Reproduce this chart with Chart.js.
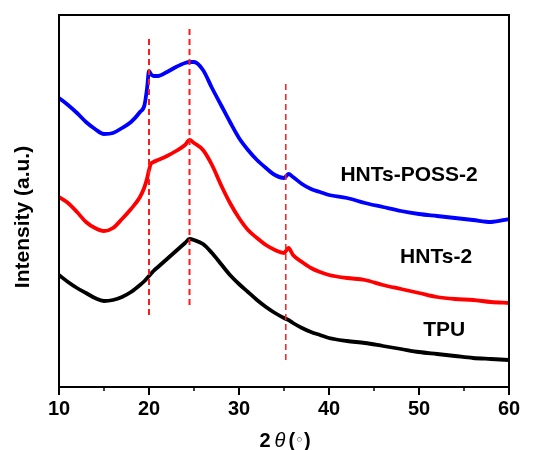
<!DOCTYPE html>
<html>
<head>
<meta charset="utf-8">
<script src="https://cdn.jsdelivr.net/npm/chart.js@4.4.1/dist/chart.umd.min.js"></script>
<style>
  body { margin: 0; background: #fff; }
</style>
</head>
<body>
<canvas id="myChart" width="534" height="450"></canvas>
<script>
// 2theta grid (degrees) and intensities (a.u.)
var twoTheta = [10, 11, 12, 13, 14, 15, 16, 17, 18, 19, 19.5, 19.8, 20, 20.2, 20.5, 21, 22, 23, 24, 24.5, 25,
  26, 27, 28, 29, 30, 31, 32, 33, 34, 35, 35.5, 36, 37, 38, 39, 40, 42, 44, 46, 48, 50, 52, 54, 56, 58, 60];

var hntsPoss2 = [289, 282, 274, 265, 258, 253, 254, 259, 265, 275, 282, 300, 316, 313, 311, 311, 315, 320, 324, 325, 325,
  317, 299, 282, 265, 249, 237, 227, 219, 212, 209, 213, 210, 203, 198, 195, 192, 189, 184, 180, 176, 173, 171, 169, 167, 165, 168];

var hnts2 = [190, 184, 175, 165, 159, 156, 159, 168, 178, 190, 200, 209, 217, 223, 225, 227, 231, 236, 242, 247, 244,
  237, 222, 202, 184, 169, 157, 149, 142, 137, 134, 139, 132, 125, 119, 115, 112, 109, 107, 102, 98, 94, 90, 88, 87, 85, 84];

var tpu = [112, 105, 99, 94, 89, 86, 87, 90, 95, 102, 106, 109, 111, 113, 116, 120, 128, 136, 144, 148, 147,
  143, 134, 123, 112, 103, 95, 87, 80, 74, 69, 67, 64, 59, 55, 52, 49, 46, 44, 41, 38, 35, 33, 31, 29, 28, 27];

var seriesNames = ["HNTs-POSS-2", "HNTs-2", "TPU"];
var seriesColors = ["#0000ff", "#ff0000", "#000000"];

// reference peak positions (dashed lines) and their spans in intensity
var refPeaks = [20, 24.5, 35.2];
var refLow = [72, 82, 27];
var refHigh = [352, 362, 307];

var xTicks = [10, 20, 30, 40, 50, 60];

function pts(ys) {
  return twoTheta.map(function (t, i) { return { x: t, y: ys[i] } })
}

var datasets = []
refPeaks.forEach(function (p, i) {
  datasets.push({
    data: [{ x: p, y: refLow[i] }, { x: p, y: refHigh[i] }],
    borderColor: "#ff1a1a",
    borderWidth: i == 2 ? 1.5 : 2,
    borderDash: [6, 4],
    pointRadius: 0
  })
})
var allSeries = [hntsPoss2, hnts2, tpu]
allSeries.forEach(function (s, i) {
  datasets.push({
    label: seriesNames[i],
    data: pts(s),
    borderColor: seriesColors[i],
    borderWidth: 3.8,
    pointRadius: 0,
    cubicInterpolationMode: "monotone"
  })
})

var extras = {
  id: "extras",
  afterDraw: function (chart) {
    var ctx = chart.ctx, a = chart.chartArea
    var xs = chart.scales.x, ys = chart.scales.y
    ctx.save()
    ctx.strokeStyle = "#000"
    ctx.lineWidth = 2
    ctx.strokeRect(a.left, a.top, a.right - a.left, a.bottom - a.top)
    // minor ticks
    ctx.lineWidth = 1.5
    for (var v = 15; v < 60; v += 10) {
      var px = Math.round(xs.getPixelForValue(v))
      ctx.beginPath()
      ctx.moveTo(px, a.bottom)
      ctx.lineTo(px, a.bottom + 4)
      ctx.stroke()
    }
    ctx.fillStyle = "#000"
    // curve labels
    ctx.font = "bold 21px 'Liberation Sans', Arial, sans-serif"
    ctx.textAlign = "center"
    ctx.textBaseline = "middle"
    var spots = [[48.9, 212], [51.9, 130], [52.8, 57]]
    seriesNames.forEach(function (n, i) {
      ctx.fillText(n, xs.getPixelForValue(spots[i][0]), ys.getPixelForValue(spots[i][1]))
    })
    // y title
    ctx.save()
    ctx.translate(23, 217)
    ctx.rotate(-Math.PI / 2)
    ctx.fillText("Intensity (a.u.)", 0, 0)
    ctx.restore()
    // x title: 2θ (◦)
    var parts = [
      ["2", "bold 20px 'Liberation Sans', Arial, sans-serif", 4],
      ["θ", "italic 20px 'Liberation Sans', Arial, sans-serif", 3],
      ["(", "bold 20px 'Liberation Sans', Arial, sans-serif", 0],
      ["◦", "15px 'DejaVu Sans', sans-serif", 0],
      [")", "bold 20px 'Liberation Sans', Arial, sans-serif", 0]
    ]
    var total = 0
    parts.forEach(function (p) { ctx.font = p[1]; total += ctx.measureText(p[0]).width + p[2] })
    var cx = 285 - total / 2
    ctx.textAlign = "left"
    parts.forEach(function (p) {
      ctx.font = p[1]
      ctx.fillText(p[0], cx, 441)
      cx += ctx.measureText(p[0]).width + p[2]
    })
    ctx.restore()
  }
}

new Chart("myChart", {
  type: "line",
  data: { datasets: datasets },
  options: {
    responsive: false,
    animation: false,
    layout: { padding: { left: 59, top: 15, right: 25, bottom: 0 } },
    plugins: { legend: { display: false }, tooltip: { enabled: false } },
    scales: {
      x: {
        type: "linear",
        min: 10,
        max: 60,
        afterBuildTicks: function (s) { s.ticks = xTicks.map(function (v) { return { value: v } }) },
        afterFit: function (s) { s.height = 63 },
        border: { display: false },
        grid: { drawOnChartArea: false, drawTicks: true, tickLength: 8, color: "#000", lineWidth: 2 },
        ticks: {
          color: "#000",
          padding: 2,
          maxRotation: 0,
          font: { family: "'Liberation Sans', Arial, sans-serif", size: 20, weight: "bold" }
        }
      },
      y: { display: false, min: 0, max: 372 }
    }
  },
  plugins: [extras]
})
</script>
</body>
</html>
